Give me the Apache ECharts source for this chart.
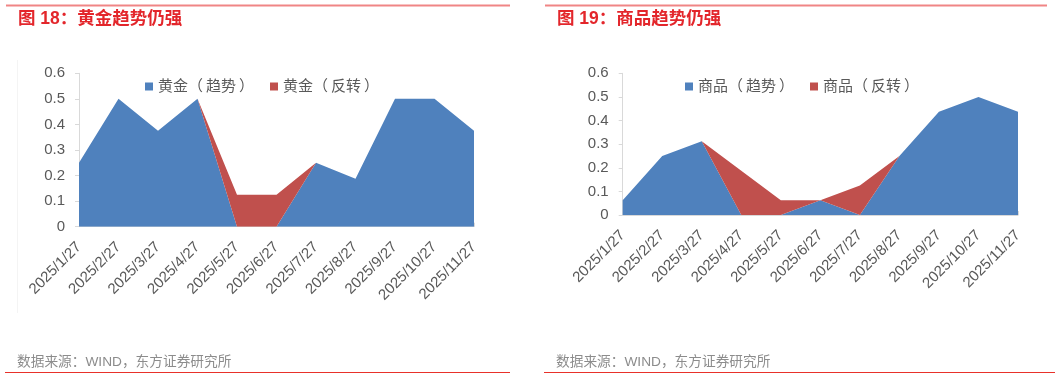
<!DOCTYPE html>
<html><head><meta charset="utf-8">
<script src="https://cdn.jsdelivr.net/npm/echarts@6/dist/echarts.min.js"></script>
<style>html,body{margin:0;padding:0;background:#fff}#c{width:1061px;height:379px}</style>
</head><body><div id="c"></div>
<script>
const categories = ['2025/1/27','2025/2/27','2025/3/27','2025/4/27','2025/5/27','2025/6/27','2025/7/27','2025/8/27','2025/9/27','2025/10/27','2025/11/27'];
const goldTrend    = [0.25, 0.5, 0.375, 0.5, 0, 0, 0.25, 0.1875, 0.5, 0.5, 0.375];
const goldReversal = [0, 0, 0, 0, 0.125, 0.125, 0, 0, 0, 0, 0];
const commTrend    = [0.0625, 0.25, 0.3125, 0, 0, 0.0625, 0, 0.25, 0.4375, 0.5, 0.4375];
const commReversal = [0, 0, 0, 0.1875, 0.0625, 0, 0.125, 0, 0, 0, 0];
const yTicks = [0, 0.1, 0.2, 0.3, 0.4, 0.5, 0.6];

const FONT = '"Liberation Sans", "Noto Sans CJK SC", sans-serif';
const BLUE = '#4f81bd', RED = '#c0504d';
const chart = echarts.init(document.getElementById('c'), null, {renderer: 'canvas'});

function xAxis(gi) {
  return {
    type: 'category', gridIndex: gi, data: categories, boundaryGap: false,
    axisLine: {lineStyle: {color: '#d9d9d9', width: 1}},
    axisTick: {inside: true, length: 4, lineStyle: {color: '#d9d9d9'}},
    axisLabel: {rotate: 45, fontSize: 15, color: '#595959', fontFamily: FONT, margin: 18, interval: 0}
  };
}
function yAxis(gi) {
  return {
    type: 'value', gridIndex: gi, min: 0, max: 0.6, interval: 0.1,
    axisLine: {show: true, lineStyle: {color: '#d9d9d9'}},
    axisTick: {show: true, length: 4, lineStyle: {color: '#d9d9d9'}},
    splitLine: {show: false},
    axisLabel: {fontSize: 15, color: '#595959', fontFamily: FONT, margin: 14,
      formatter: v => { const t = yTicks.find(x => Math.abs(x - v) < 1e-9); return t === 0 ? '0' : String(t); }}
  };
}
function area(name, data, color, gi, stack) {
  return {
    name, type: 'line', xAxisIndex: gi, yAxisIndex: gi, stack, data,
    symbol: 'none', lineStyle: {width: 0}, itemStyle: {color},
    areaStyle: {color, opacity: 1}, z: 2
  };
}
const legText = {fontSize: 15, color: '#595959', fontFamily: FONT};
function legend(left, names) {
  return {left, top: 79, icon: 'rect', itemWidth: 8, itemHeight: 8, itemGap: 16, padding: 0,
    textStyle: Object.assign({}, legText, {
      rich: {
        t: legText,
        p1: Object.assign({}, legText, {padding: [0, 3, 0, 0]}),
        p2: Object.assign({}, legText, {padding: [0, 0, 0, 3]})
      }
    }),
    formatter: n => '{t|' + n.replace('（', '}{p1|（}{t|').replace('）', '}{p2|）}'),
    data: names};
}

chart.setOption({
  animation: false,
  textStyle: {fontFamily: FONT},
  grid: [
    {left: 79, top: 73.3, width: 395, height: 153.4},
    {left: 622.7, top: 73.3, width: 395.3, height: 141.7}
  ],
  xAxis: [xAxis(0), xAxis(1)],
  yAxis: [yAxis(0), yAxis(1)],
  legend: [
    legend(145, ['黄金（趋势）', '黄金（反转）']),
    legend(685, ['商品（趋势）', '商品（反转）'])
  ],
  series: [
    area('黄金（趋势）', goldTrend, BLUE, 0, 'g'),
    area('黄金（反转）', goldReversal, RED, 0, 'g'),
    area('商品（趋势）', commTrend, BLUE, 1, 'c'),
    area('商品（反转）', commReversal, RED, 1, 'c')
  ],
  graphic: [
    {type: 'line', shape: {x1: 6, y1: 5.5, x2: 510, y2: 5.5}, style: {stroke: '#f08585', lineWidth: 2}},
    {type: 'line', shape: {x1: 545, y1: 5.5, x2: 1047, y2: 5.5}, style: {stroke: '#f08585', lineWidth: 2}},
    {type: 'text', left: 18, top: 10.5, style: {text: '图 18：黄金趋势仍强', fill: '#e3262b', font: 'bold 17.5px ' + FONT}},
    {type: 'text', left: 557, top: 10.5, style: {text: '图 19：商品趋势仍强', fill: '#e3262b', font: 'bold 17.5px ' + FONT}},
    {type: 'text', left: 17, top: 355, style: {text: '数据来源：WIND，东方证券研究所', fill: '#8c8c8c', font: '13.7px ' + FONT}},
    {type: 'text', left: 556, top: 355, style: {text: '数据来源：WIND，东方证券研究所', fill: '#8c8c8c', font: '13.7px ' + FONT}},
    {type: 'line', shape: {x1: 5, y1: 372.5, x2: 510, y2: 372.5}, style: {stroke: '#e8312a', lineWidth: 1}},
    {type: 'line', shape: {x1: 544, y1: 372.5, x2: 1055, y2: 372.5}, style: {stroke: '#e8312a', lineWidth: 1}},
    {type: 'line', shape: {x1: 17.5, y1: 60, x2: 17.5, y2: 313}, style: {stroke: '#f4f4f4', lineWidth: 1}}
  ]
});
</script></body></html>
